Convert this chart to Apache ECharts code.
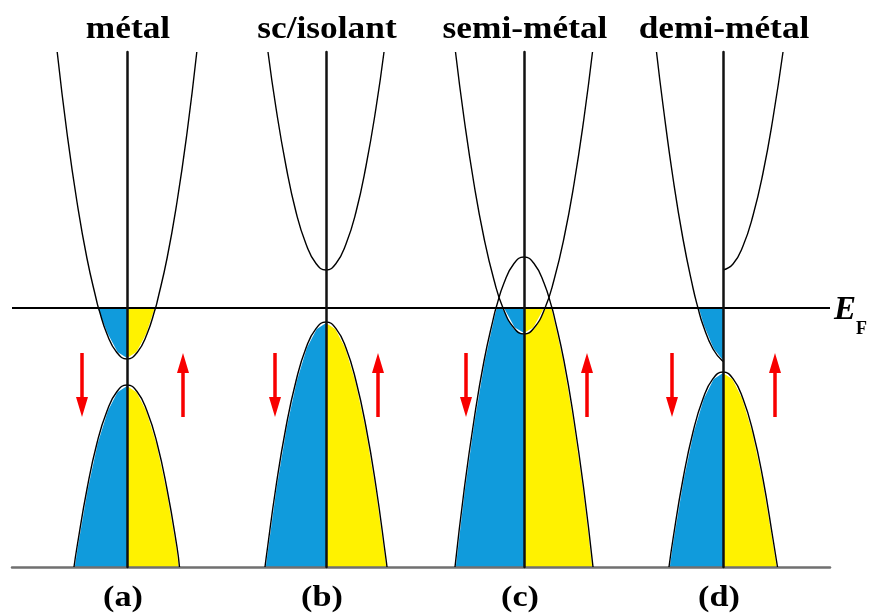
<!DOCTYPE html>
<html><head><meta charset="utf-8">
<script src="https://cdn.jsdelivr.net/npm/echarts@6/dist/echarts.min.js"></script>
<style>html,body{margin:0;padding:0;background:#fff}#c{width:871px;height:614px}</style>
</head><body><div id="c"></div>
<script>
// ---------- text ----------
const panelTitles = ['métal', 'sc/isolant', 'semi-métal', 'demi-métal'];
const panelLabels = ['(a)', '(b)', '(c)', '(d)'];
const fermiSymbol = 'E';
const fermiSubscript = 'F';

// ---------- energy scale (E_F = 0) ----------
const fermiEnergy = 0;
const energyMin = -25.9;
const energyMax = 25.6;

// ---------- bands, [k, E] ----------
// (a) métal
const aCbDown = [[-6.98,25.6],[-6,17.5],[-5,10.6],[-4,4.95],[-3,0.55],[-2.85,0],[-2,-2.6],[-1,-4.47],[0,-5.1]];
const aCbUp   = [[0,-5.1],[1,-4.47],[2,-2.6],[2.85,0],[3,0.55],[4,4.95],[5,10.6],[6,17.5],[6.98,25.6]];
const aVbDown = [[-5.3,-25.9],[-5,-23.9],[-4,-18.1],[-3,-13.5],[-2,-10.3],[-1,-8.35],[0,-7.7]];
const aVbUp   = [[0,-7.7],[1,-8.35],[2,-10.3],[3,-13.5],[4,-18.1],[5,-23.9],[5.25,-25.9]];
// (b) sc/isolant
const bCbDown = [[-5.8,25.6],[-5,20.0],[-4,14.2],[-3,9.6],[-2,6.4],[-1,4.45],[0,3.8]];
const bCbUp   = [[0,3.8],[1,4.45],[2,6.4],[3,9.6],[4,14.2],[5,20.0],[5.8,25.6]];
const bVbDown = [[-6.1,-25.9],[-6,-25.1],[-5,-17.85],[-4,-11.9],[-3,-7.3],[-2,-4.0],[-1,-2.06],[0,-1.4]];
const bVbUp   = [[0,-1.4],[1,-2.06],[2,-4.0],[3,-7.3],[4,-11.9],[5,-17.85],[6,-25.1],[6.1,-25.9]];
// (c) semi-métal
const cCbDown = [[-6.85,25.6],[-6,19.0],[-5,12.4],[-4,7.0],[-3,2.8],[-2.1,0],[-1,-2.0],[0,-2.6]];
const cCbUp   = [[0,-2.6],[1,-2.0],[2.1,0],[3,2.8],[4,7.0],[5,12.4],[6,19.0],[6.85,25.6]];
const cVbDown = [[-6.9,-25.9],[-6,-18.3],[-5,-11.2],[-4,-5.3],[-3,-0.76],[-2.8,0],[-2,2.5],[-1,4.45],[0,5.1]];
const cVbUp   = [[0,5.1],[1,4.45],[2,2.5],[2.8,0],[3,-0.76],[4,-5.3],[5,-11.2],[6,-18.3],[6.9,-25.9]];
// (d) demi-métal
const dCbDown = [[-6.65,25.6],[-6,20.3],[-5,13.0],[-4,6.9],[-3,2.0],[-2.5,0],[-2,-1.7],[-1,-4.1],[0,-5.35]];
const dCbUp   = [[0,3.8],[1,4.4],[2,6.2],[3,9.25],[4,13.5],[5,19.0],[6,25.6]];
const dVbDown = [[-5.4,-25.9],[-5,-23.1],[-4,-17.1],[-3,-12.4],[-2,-9.07],[-1,-7.07],[0,-6.4]];
const dVbUp   = [[0,-6.4],[1,-7.07],[2,-9.07],[3,-12.4],[4,-17.1],[5,-23.1],[5.45,-25.9]];

const cbDown = [aCbDown, bCbDown, cCbDown, dCbDown];
const cbUp   = [aCbUp,   bCbUp,   cCbUp,   dCbUp];
const vbDown = [aVbDown, bVbDown, cVbDown, dVbDown];
const vbUp   = [aVbUp,   bVbUp,   cVbUp,   dVbUp];

// ---------- spin arrows ----------
const arrowDownK = [-4.5, -5.1, -5.8, -5.1];
const arrowUpK   = [5.6, 5.2, 6.3, 5.2];
const arrowTopE = -4.5;
const arrowBottomE = -10.9;

// ---------- layout / style ----------
const centers = [127, 326, 524, 723];
const halfWidth = 80;
const kHalf = 8;
const gridTop = 52, gridBottom = 47;
const BLUE = '#109bdc', YELLOW = '#fff200', RED = '#f80000';
const SERIF = '"Liberation Serif", "Times New Roman", serif';
const arrowPath = 'path://M6,0L12,20L7.75,20L7.75,64L4.25,64L4.25,20L0,20Z';

const clampBelowFermi = pts => pts.map(([k, e]) => [k, Math.min(e, fermiEnergy)]);
const same = (p, q) => p[0] === q[0] && p[1] === q[1];

const grid = [], xAxis = [], yAxis = [], series = [];
centers.forEach((c, p) => {
  grid.push({ left: c - halfWidth, width: 2 * halfWidth, top: gridTop, bottom: gridBottom });
  xAxis.push({ gridIndex: p, type: 'value', min: -kHalf, max: kHalf, show: false });
  yAxis.push({ gridIndex: p, type: 'value', min: energyMin, max: energyMax, z: 6,
    axisLine: { show: true, onZero: true, lineStyle: { color: '#111', width: 2.5 } },
    axisTick: { show: false }, axisLabel: { show: false }, splitLine: { show: false } });
  const base = { xAxisIndex: p, yAxisIndex: p, silent: true, symbol: 'none', animation: false };
  const fill = (data, color, origin) => Object.assign({}, base, {
    type: 'line', data: clampBelowFermi(data), smooth: false, z: 2,
    lineStyle: { width: 1.6, color: '#ffffff' }, areaStyle: { color, opacity: 1, origin } });
  series.push(fill(vbDown[p], BLUE, 'start'));
  series.push(fill(vbUp[p], YELLOW, 'start'));
  series.push(fill(cbDown[p], BLUE, 'auto'));
  series.push(fill(cbUp[p], YELLOW, 'auto'));
  const curve = data => Object.assign({}, base, {
    type: 'line', data, smooth: true, z: 4, lineStyle: { color: '#000', width: 1.4 } });
  const bands = [[cbDown[p], cbUp[p]], [vbDown[p], vbUp[p]]];
  bands.forEach(([dn, up]) => {
    if (same(dn[dn.length - 1], up[0])) series.push(curve(dn.concat(up.slice(1))));
    else { series.push(curve(dn)); series.push(curve(up)); }
  });
  const midE = (arrowTopE + arrowBottomE) / 2;
  const arrow = (k, rot) => Object.assign({}, base, {
    type: 'scatter', data: [[k, midE]], symbol: arrowPath, symbolSize: [12, 64],
    symbolRotate: rot, z: 5, itemStyle: { color: RED, opacity: 1 } });
  series.push(arrow(arrowDownK[p], 180));
  series.push(arrow(arrowUpK[p], 0));
});

// overlay grid: Fermi level + baseline
grid.push({ left: 12, right: 41, top: gridTop, bottom: gridBottom });
xAxis.push({ gridIndex: 4, type: 'value', min: 0, max: 1, z: 3,
  axisLine: { show: true, onZero: false, lineStyle: { color: '#707070', width: 2.5 } },
  axisTick: { show: false }, axisLabel: { show: false }, splitLine: { show: false } });
yAxis.push({ gridIndex: 4, type: 'value', min: energyMin, max: energyMax, show: false });
series.push({ type: 'line', xAxisIndex: 4, yAxisIndex: 4, silent: true, symbol: 'none', z: 3,
  data: [[0, fermiEnergy], [1, fermiEnergy]], lineStyle: { color: '#000', width: 2 } });

const graphic = [];
centers.forEach((c, p) => {
  graphic.push({ type: 'text', x: c + 1, y: 29.5, scaleX: 1.14, z: 10,
    style: { text: panelTitles[p], font: 'bold 31px ' + SERIF, fill: '#000', textAlign: 'center', textVerticalAlign: 'middle' } });
  graphic.push({ type: 'text', x: c - 4, y: 598, scaleX: 1.14, z: 10,
    style: { text: panelLabels[p], font: 'bold 30px ' + SERIF, fill: '#000', textAlign: 'center', textVerticalAlign: 'middle' } });
});
graphic.push({ type: 'text', x: 834, y: 310, z: 10,
  style: { text: fermiSymbol, font: 'italic bold 33px ' + SERIF, fill: '#000', textAlign: 'left', textVerticalAlign: 'middle' } });
graphic.push({ type: 'text', x: 856, y: 329, z: 10,
  style: { text: fermiSubscript, font: 'bold 18px ' + SERIF, fill: '#000', textAlign: 'left', textVerticalAlign: 'middle' } });

const chart = echarts.init(document.getElementById('c'), null, { renderer: 'canvas' });
chart.setOption({ animation: false, backgroundColor: '#fff', grid, xAxis, yAxis, series, graphic });
</script></body></html>
